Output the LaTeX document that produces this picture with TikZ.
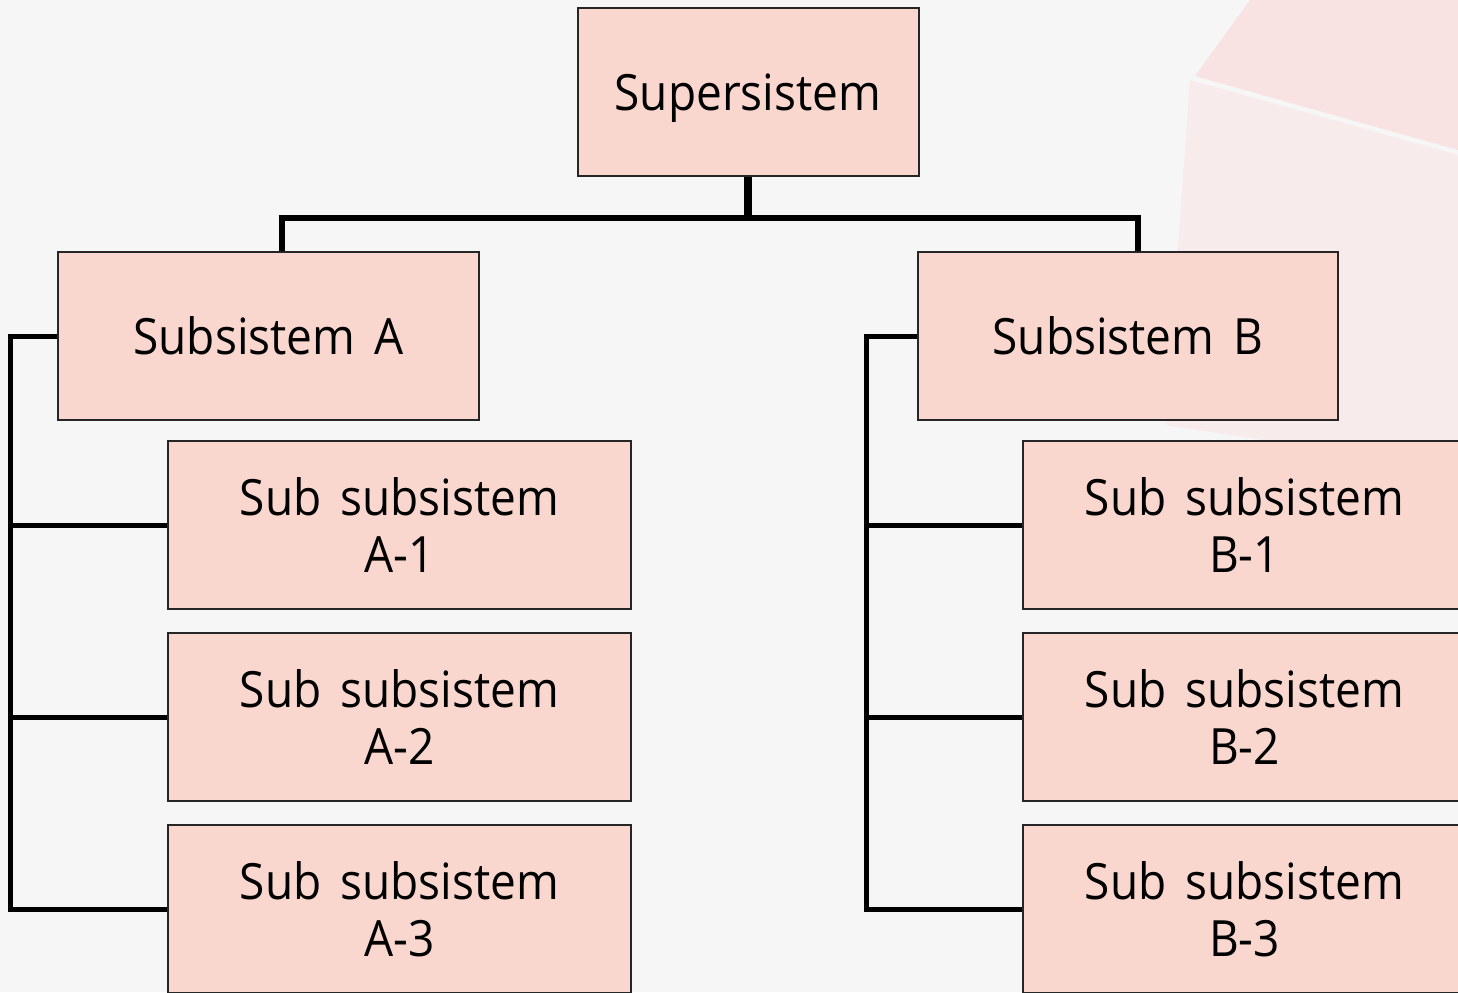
\documentclass[tikz,border=0pt]{standalone}
\usepackage{fontspec}
\setmainfont[FakeStretch=0.92,WordSpace=1.6]{Open Sans}
\usetikzlibrary{positioning}
\definecolor{boxpink}{RGB}{249,215,206}
\definecolor{backgrey}{RGB}{246,246,246}
\definecolor{cubepink}{RGB}{250,222,222}

\begin{document}
\begin{tikzpicture}[x=0.5pt,y=-0.5pt]

\tikzset{%
every box/.style={
draw=black!85,
line width=1pt,
fill=boxpink,
align=center,
inner sep=0pt,
minimum height=84pt,
font=\fontsize{25}{28.5}\selectfont
},
tree line/.style={
line width=2.5pt
},
}

% Background and the faint cube at the top right
\useasboundingbox (0,0) rectangle (1458,992);
\fill[backgrey] (0,0) rectangle (1458,992);
\fill[cubepink, opacity=0.8] (1195,76) -- (1250,0) -- (1458,0) -- (1458,150) -- cycle;
\fill[cubepink, opacity=0.45] (1190,80) -- (1458,155) -- (1458,470) -- (1165,425) -- cycle;

% Top of the tree
\node [every box, minimum width=170.5pt, text depth=0pt] (sup) at (748,92) {Supersistem};

% Subsystems
\node [every box, minimum width=210.5pt] (subA) at (268.5,336) {Subsistem A};
\node [every box, minimum width=210pt] (subB) at (1128,336) {Subsistem B};

% Sub subsystems of A and B
\foreach \m [count=\y] in {1,2,3}
\node [every box, minimum width=231.5pt] (A-\m) at (399.5,333+192*\y) {Sub subsistem\\A-\m};
\foreach \m [count=\y] in {1,2,3}
\node [every box, minimum width=221.5pt] (B-\m) at (1244.5,333+192*\y) {Sub subsistem\\B-\m};

% Joints of the connectors
\coordinate (joint-A) at (282,218);
\coordinate (joint-B) at (1138,218);
\coordinate (rail-A) at (10,336);
\coordinate (rail-B) at (866,336);

% Supersistem down to the two subsystems
\draw [line width=4pt] (sup.south) -- (sup.south |- joint-A);
\draw [line width=3pt] (subA.north -| joint-A) -- (joint-A) -- (joint-B) -- (subB.north -| joint-B);

% Side rails to the sub subsystems
\draw [tree line] (subA.west) -- (rail-A) -- (rail-A |- A-3.west) -- (A-3.west);
\draw [tree line] (subB.west) -- (rail-B) -- (rail-B |- B-3.west) -- (B-3.west);
\foreach \m in {1,2} {
\draw [tree line] (rail-A |- A-\m.west) -- (A-\m.west);
\draw [tree line] (rail-B |- B-\m.west) -- (B-\m.west);
}

\end{tikzpicture}
\end{document}
